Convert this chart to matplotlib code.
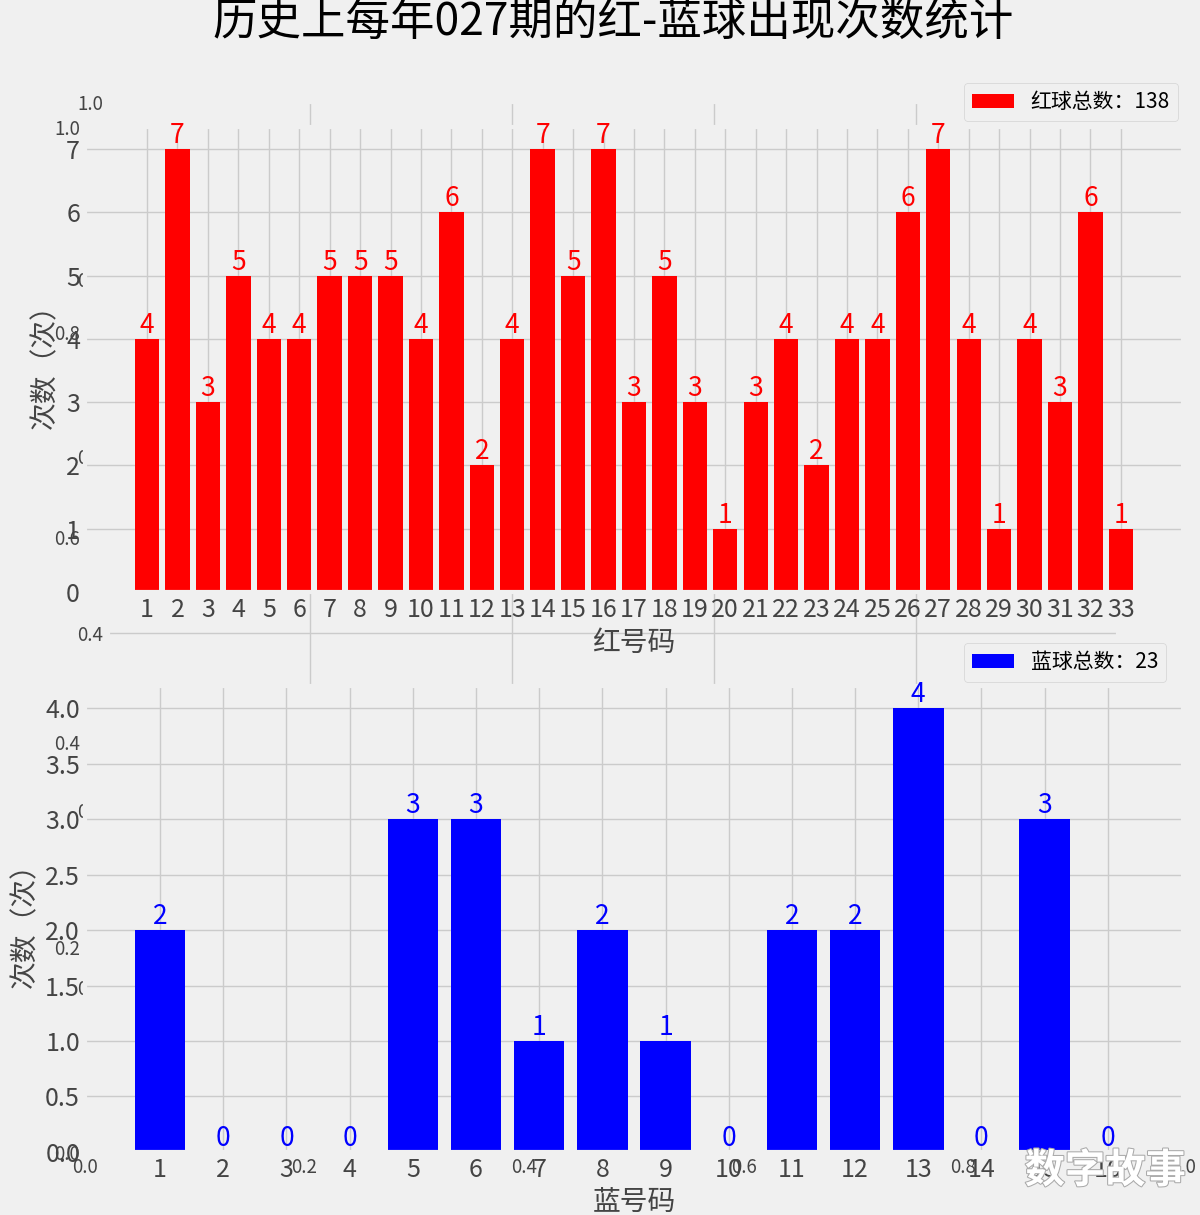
import matplotlib.pyplot as plt
import matplotlib.patheffects as pe

plt.style.use('fivethirtyeight')
plt.rcParams['font.family'] = ['Noto Sans CJK SC', 'DejaVu Sans']
plt.rcParams['axes.unicode_minus'] = False

# data
red_nums = list(range(1, 34))
red_counts = [4, 7, 3, 5, 4, 4, 5, 5, 5, 4, 6, 2, 4, 7, 5, 7, 3,
              5, 3, 1, 3, 4, 2, 4, 4, 6, 7, 4, 1, 4, 3, 6, 1]
blue_nums = list(range(1, 17))
blue_counts = [2, 0, 0, 0, 3, 3, 1, 2, 1, 0, 2, 2, 4, 0, 3, 0]
bg_ticks = [0.0, 0.2, 0.4, 0.6, 0.8, 1.0]
title = '历史上每年027期的红-蓝球出现次数统计'

tick_color = '#444444'

fig = plt.figure(figsize=(12, 12.15), dpi=100)

# empty axes left underneath the two charts
ax_bg1 = fig.add_axes([0.0708, 0.0519, 0.915, 0.8436])
ax_bg2 = fig.add_axes([0.09, 0.1877, 0.8417, 0.7284])
for a in (ax_bg1, ax_bg2):
    a.set_xticks(bg_ticks)
    a.set_yticks(bg_ticks)
    a.tick_params(labelsize=13.5, colors=tick_color)

# red balls
ax1 = fig.add_axes([0.0708, 0.5128, 0.915, 0.3827])
ax1.bar(red_nums, red_counts, color='red', label='红球总数：%d' % sum(red_counts))
for x, y in zip(red_nums, red_counts):
    ax1.text(x, y, str(y), ha='center', va='bottom', color='red', fontsize=19)
ax1.set_xticks(red_nums)
ax1.tick_params(labelsize=18, colors=tick_color)
ax1.set_xlabel('红号码', fontsize=20, color=tick_color)
ax1.set_ylabel('次数（次）', fontsize=20, color=tick_color)
ax1.legend(loc='upper left', bbox_to_anchor=(0.8005, 1.095), borderaxespad=0, fontsize=15)

# blue balls
ax2 = fig.add_axes([0.0708, 0.0519, 0.915, 0.3835])
ax2.bar(blue_nums, blue_counts, color='blue', label='蓝球总数：%d' % sum(blue_counts))
for x, y in zip(blue_nums, blue_counts):
    ax2.text(x, y, str(y), ha='center', va='bottom', color='blue', fontsize=19)
ax2.set_xticks(blue_nums)
ax2.tick_params(labelsize=18, colors=tick_color)
ax2.set_xlabel('蓝号码', fontsize=20, color=tick_color)
ax2.set_ylabel('次数（次）', fontsize=20, color=tick_color)
ax2.legend(loc='upper left', bbox_to_anchor=(0.8005, 1.092), borderaxespad=0, fontsize=15)

fig.text(0.511, 0.982, title, fontsize=32, ha='center', va='center')

# watermark
fig.text(0.921, 0.036, '数字故事', color='white', fontsize=29, fontweight='bold',
         ha='center', va='center',
         path_effects=[pe.withStroke(linewidth=1.5, foreground='#aaaaaa')])

fig.savefig('out.png', dpi=100, facecolor=fig.get_facecolor())
